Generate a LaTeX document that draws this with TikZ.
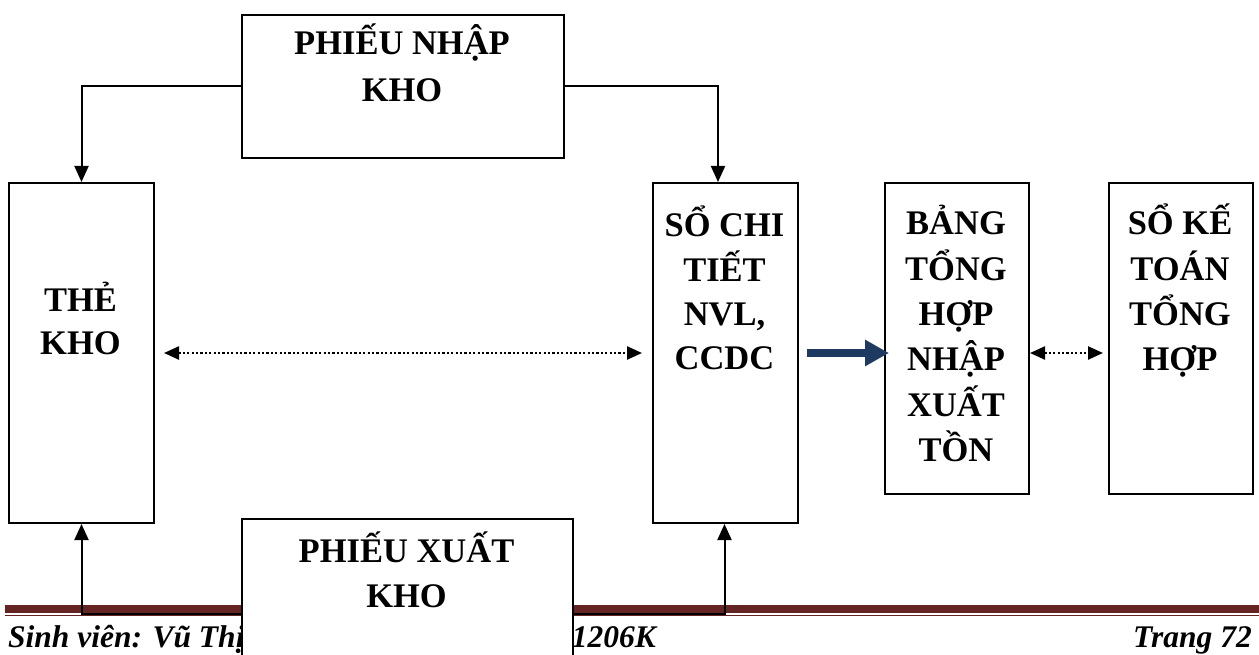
\documentclass[tikz,border=0pt]{standalone}
\usepackage{fontspec}
\setmainfont{Liberation Serif}
\usetikzlibrary{arrows.meta,calc}
\definecolor{footred}{HTML}{632423}
\definecolor{navy}{HTML}{1F3A60}
\begin{document}
\begin{tikzpicture}[x=1pt,y=-1pt,
  boxst/.style={draw=black,line width=2pt,fill=white,rectangle,inner sep=0pt},
  lbl/.style={font=\bfseries\fontsize{34.5}{40}\selectfont,anchor=base,inner sep=0pt},
  foot/.style={font=\bfseries\itshape\fontsize{31.5}{36}\selectfont,inner sep=0pt},
  conn/.style={line width=2pt,-{Triangle[length=16pt,width=14pt]}},
  dotarr/.style={line width=2.4pt,dash pattern=on 2.2pt off 2.2pt,
     {Triangle[length=15pt,width=13pt]}-{Triangle[length=15pt,width=13pt]}},
  bigarr/.style={line width=8pt,navy,-{Triangle[length=24pt,width=25pt]}}]
\useasboundingbox (0,0) rectangle (1259,655);
\fill[white] (0,0) rectangle (1259,655);

% footer
\fill[footred] (5,604.5) rectangle (1259,612.5);
\fill[footred] (5,614.6) rectangle (1259,616.2);
\node[foot,anchor=base west] (fl) at (8,647) {Sinh viên: Vũ Thị};
\node[foot,anchor=base east] (fm) at (656,647) {QT1206K};
\node[foot,anchor=base east] (fr) at (1252,647) {Trang 72};

% boxes
\node[boxst,minimum width=322pt,minimum height=143pt,anchor=north west] (pnk) at (241,14) {};
\node[boxst,minimum width=145pt,minimum height=340pt,anchor=north west] (tk) at (8,182) {};
\node[boxst,minimum width=145pt,minimum height=340pt,anchor=north west] (sct) at (652,182) {};
\node[boxst,minimum width=144pt,minimum height=311pt,anchor=north west] (bth) at (884,182) {};
\node[boxst,minimum width=144pt,minimum height=311pt,anchor=north west] (skt) at (1108,182) {};

% texts
\node[lbl] (pnk1) at (402,55) {PHIẾU NHẬP};
\node[lbl] (pnk2) at (402,102) {KHO};
\node[lbl] (tk1) at (80.5,311) {THẺ};
\node[lbl] (tk2) at (80.5,354) {KHO};
\node[lbl] (sct1) at (724.5,237) {SỔ CHI};
\node[lbl] (sct2) at (724.5,281) {TIẾT};
\node[lbl] (sct3) at (724.5,325) {NVL,};
\node[lbl] (sct4) at (724.5,369) {CCDC};
\node[lbl] (bth1) at (956,235) {BẢNG};
\node[lbl] (bth2) at (956,280) {TỔNG};
\node[lbl] (bth3) at (956,325) {HỢP};
\node[lbl] (bth4) at (956,370) {NHẬP};
\node[lbl] (bth5) at (956,416) {XUẤT};
\node[lbl] (bth6) at (956,461) {TỒN};
\node[lbl] (skt1) at (1180,235) {SỔ KẾ};
\node[lbl] (skt2) at (1180,280) {TOÁN};
\node[lbl] (skt3) at (1180,325) {TỔNG};
\node[lbl] (skt4) at (1180,370) {HỢP};

% connectors top
\draw[conn] (pnk.west) -| (tk.north);
\draw[conn] (pnk.east) -| ($(sct.north)+(-7.5,0)$);

% bottom box and connectors
\node[boxst,minimum width=331pt,minimum height=200pt,anchor=north west] (pxk) at (241,518) {};
\node[lbl] (pxk1) at (406.5,562) {PHIẾU XUẤT};
\node[lbl] (pxk2) at (406.5,607) {KHO};
\coordinate (pxkL) at ($(pxk.north west)+(0,96)$);
\coordinate (pxkR) at ($(pxk.north east)+(0,96)$);
\draw[conn] (pxkL) -| (tk.south);
\draw[conn] (pxkR) -| ($(sct.south)+(-1,0)$);

% middle arrows
\draw[dotarr,shorten <=9pt,shorten >=10pt] (tk.east) -- (sct.west);
\draw[bigarr] ($(sct.east)+(8,0)$) -- ($(sct.east -| bth.west)+(5,0)$);
\draw[dotarr,shorten >=5pt] (sct.east -| bth.east) -- (sct.east -| skt.west);
\end{tikzpicture}
\end{document}
